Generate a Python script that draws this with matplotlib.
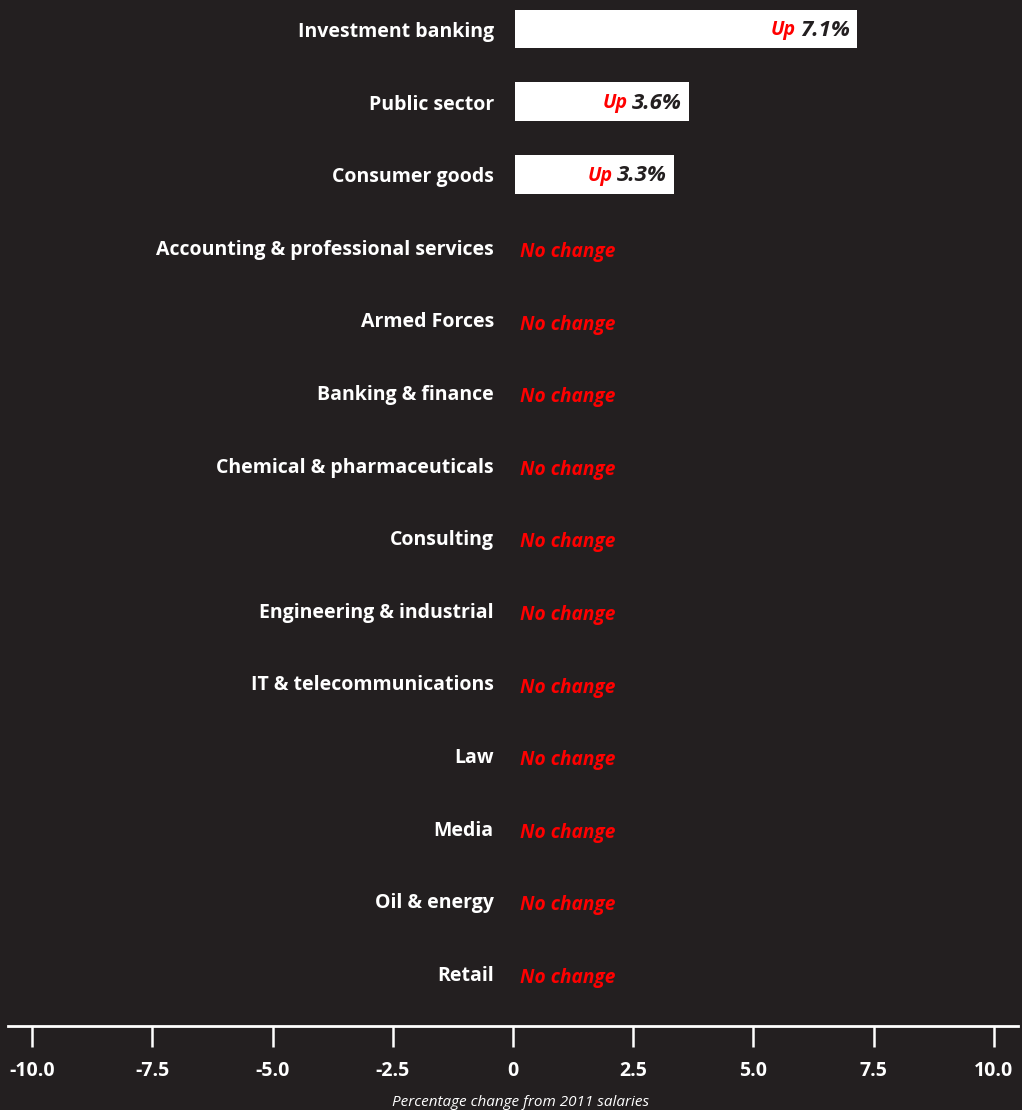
import matplotlib.pyplot as plt

# data
sectors = ['Investment banking', 'Public sector', 'Consumer goods',
           'Accounting & professional services', 'Armed Forces',
           'Banking & finance', 'Chemical & pharmaceuticals', 'Consulting',
           'Engineering & industrial', 'IT & telecommunications', 'Law',
           'Media', 'Oil & energy', 'Retail']
change = [7.1, 3.6, 3.3, 0, 0, 0, 0, 0, 0, 0, 0, 0, 0, 0]
xticks = [-10, -7.5, -5, -2.5, 0, 2.5, 5, 7.5, 10]
xticklabels = ['-10.0', '-7.5', '-5.0', '-2.5', '0', '2.5', '5.0', '7.5', '10.0']

bg = '#231f20'
red = '#ff0000'
plt.rcParams['font.family'] = ['Open Sans', 'DejaVu Sans']

W, H = 1022, 1110
fig = plt.figure(figsize=(W / 100, H / 100), dpi=100, facecolor=bg)
ax = fig.add_axes([8 / W, (H - 1026) / H, 1010 / W, 1026 / H], facecolor=bg)

ypos = list(range(len(sectors)))
ax.barh(ypos, change, height=0.53, left=0.05, color='white')

for y, name, v in zip(ypos, sectors, change):
    ax.text(-0.4, y + 0.04, name, ha='right', va='center', color='white',
            fontsize=14, fontweight='bold')
    if v == 0:
        ax.text(0.15, y + 0.07, 'No change', ha='left', va='center', color=red,
                fontsize=13.8, fontweight='bold', fontstyle='italic')
    else:
        t = ax.text(v - 0.1, y + 0.02, f'{v:.1f}%', ha='right', va='center',
                    color=bg, fontsize=16, fontweight='bold', fontstyle='italic')
        ax.annotate('Up', xy=(0, 0), xycoords=t, xytext=(-3, 0.5),
                    textcoords='offset points', ha='right', va='bottom',
                    color=red, fontsize=14, fontweight='bold',
                    fontstyle='italic')

ax.set_xlim(-10.5, 10.5)
ax.set_ylim(13.73, -0.4)
ax.set_yticks([])
ax.set_xticks(xticks)
ax.set_xticklabels(xticklabels)
for s in ['top', 'left', 'right']:
    ax.spines[s].set_visible(False)
ax.spines['bottom'].set_color('white')
ax.spines['bottom'].set_linewidth(2)
ax.tick_params(axis='x', colors='white', length=15, width=1.8, pad=10,
               labelsize=14)
for lab in ax.get_xticklabels():
    lab.set_fontweight('bold')

fig.text(521 / W, 1 - 1102 / H, 'Percentage change from 2011 salaries',
         ha='center', va='center', color='white', fontsize=11,
         fontstyle='italic')

fig.savefig('out.png', dpi=100, facecolor=bg)
